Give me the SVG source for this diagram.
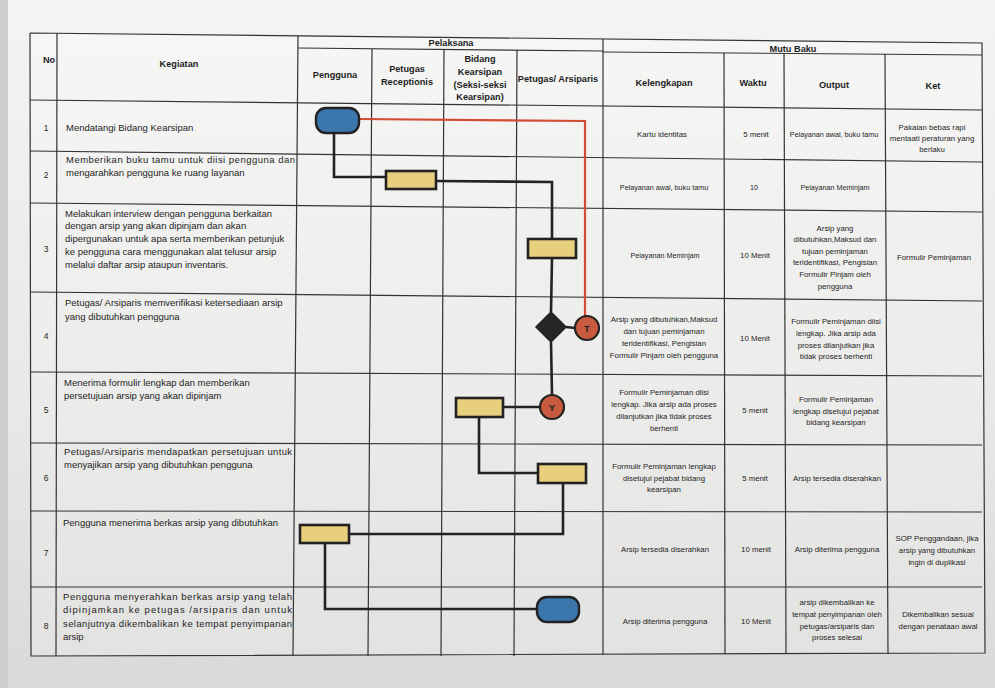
<svg xmlns="http://www.w3.org/2000/svg" width="995" height="688" viewBox="0 0 995 688">
<defs>
<linearGradient id="bg" x1="0" y1="0" x2="0" y2="1">
<stop offset="0" stop-color="#f4f4f3"/>
<stop offset="0.6" stop-color="#e8e8e6"/>
<stop offset="1" stop-color="#d9d9d8"/>
</linearGradient>
<linearGradient id="tb" x1="0" y1="0" x2="0" y2="1">
<stop offset="0" stop-color="#f6f6f5"/>
<stop offset="0.55" stop-color="#ececea"/>
<stop offset="1" stop-color="#e2e2e0"/>
</linearGradient>
<style>
.g{stroke:#333;stroke-width:1.2;fill:none}
.c{stroke:#232323;stroke-width:2.6;fill:none}
.r{stroke:#d34b35;stroke-width:2.2;fill:none}
.y{fill:#e8cf7e;stroke:#222;stroke-width:2.6}
.b{fill:#3b76ad;stroke:#222;stroke-width:2.4}
.o{fill:#c85a40;stroke:#222;stroke-width:2.2}
.d{fill:#262626;stroke:#222;stroke-width:1.5}
text{font-family:"Liberation Sans",Arial,sans-serif;fill:#1e1e1e}
.h{font-weight:bold;font-size:9.2px;text-anchor:middle}
.k{font-size:9.5px}
.n{font-size:8.5px;text-anchor:middle}
.m{font-size:7.8px;text-anchor:middle}
.s{font-size:7.2px;text-anchor:middle}
.l{font-weight:bold;font-size:9.5px;text-anchor:middle;fill:#222}
</style>
</defs>
<rect x="0" y="0" width="995" height="688" fill="url(#bg)"/>
<rect x="0" y="0" width="8" height="688" fill="#cfcfcf"/>
<polygon points="30,33 982,43 985,653 31,656" fill="url(#tb)"/>

<g id="grid">
<polyline class="g" points="30,33 982,43 985,653 31,656 30,33" stroke-width="1.4"/>
<line class="g" x1="298" y1="48" x2="603" y2="51"/>
<line class="g" x1="603" y1="52" x2="982" y2="55"/>
<line class="g" x1="30" y1="100" x2="982" y2="110"/>
<line class="g" x1="30" y1="151" x2="982" y2="162"/>
<line class="g" x1="30" y1="203" x2="982" y2="212"/>
<line class="g" x1="30" y1="292" x2="982" y2="301"/>
<line class="g" x1="30" y1="372" x2="982" y2="376"/>
<line class="g" x1="30" y1="443" x2="982" y2="445"/>
<line class="g" x1="30" y1="511" x2="982" y2="512"/>
<line class="g" x1="30" y1="587" x2="982" y2="587"/>
<line class="g" x1="57" y1="33" x2="56" y2="656"/>
<line class="g" x1="298" y1="36" x2="293" y2="656"/>
<line class="g" x1="372" y1="49" x2="368" y2="656"/>
<line class="g" x1="444" y1="49" x2="441" y2="656"/>
<line class="g" x1="517" y1="50" x2="514" y2="656"/>
<line class="g" x1="603" y1="39" x2="603" y2="655"/>
<line class="g" x1="724" y1="53" x2="725" y2="654"/>
<line class="g" x1="784" y1="53" x2="786" y2="654"/>
<line class="g" x1="885" y1="54" x2="888" y2="654"/>
</g>

<g id="header">
<text class="h" x="49" y="63">No</text>
<text class="h" x="179" y="67">Kegiatan</text>
<text class="h" x="451" y="46">Pelaksana</text>
<text class="h" x="335" y="78">Pengguna</text>
<text class="h" x="407" y="72">Petugas</text>
<text class="h" x="407" y="85">Receptionis</text>
<text class="h" x="480" y="62">Bidang</text>
<text class="h" x="480" y="75">Kearsipan</text>
<text class="h" x="480" y="88">(Seksi-seksi</text>
<text class="h" x="480" y="100">Kearsipan)</text>
<text class="h" x="558" y="82">Petugas/ Arsiparis</text>
<text class="h" x="793" y="52">Mutu Baku</text>
<text class="h" x="664" y="86">Kelengkapan</text>
<text class="h" x="753" y="86">Waktu</text>
<text class="h" x="834" y="88">Output</text>
<text class="h" x="933" y="89">Ket</text>
</g>

<g id="numbers">
<text class="n" x="46" y="131">1</text>
<text class="n" x="46" y="178">2</text>
<text class="n" x="46" y="252">3</text>
<text class="n" x="46" y="339">4</text>
<text class="n" x="46" y="413">5</text>
<text class="n" x="46" y="481">6</text>
<text class="n" x="46" y="556">7</text>
<text class="n" x="46" y="629">8</text>
</g>

<g id="kegiatan">
<text class="k" x="66" y="131" font-size="10.2">Mendatangi Bidang Kearsipan</text>
<text class="k" x="66" y="163" textLength="229" lengthAdjust="spacing">Memberikan buku tamu untuk diisi pengguna dan</text>
<text class="k" x="66" y="176">mengarahkan pengguna ke ruang layanan</text>
<text class="k" x="65" y="217">Melakukan interview dengan pengguna berkaitan</text>
<text class="k" x="65" y="229">dengan arsip yang akan dipinjam dan akan</text>
<text class="k" x="65" y="242">dipergunakan untuk apa serta memberikan petunjuk</text>
<text class="k" x="65" y="255">ke pengguna cara menggunakan alat telusur arsip</text>
<text class="k" x="65" y="268">melalui daftar arsip ataupun inventaris.</text>
<text class="k" x="65" y="306">Petugas/ Arsiparis memverifikasi ketersediaan arsip</text>
<text class="k" x="65" y="320">yang dibutuhkan pengguna</text>
<text class="k" x="64" y="386">Menerima formulir lengkap dan memberikan</text>
<text class="k" x="64" y="399">persetujuan arsip yang akan dipinjam</text>
<text class="k" x="64" y="455" textLength="228" lengthAdjust="spacing">Petugas/Arsiparis mendapatkan persetujuan untuk</text>
<text class="k" x="64" y="468">menyajikan arsip yang dibutuhkan pengguna</text>
<text class="k" x="63" y="526">Pengguna menerima berkas arsip yang dibutuhkan</text>
<text class="k" x="63" y="600" textLength="229" lengthAdjust="spacing">Pengguna menyerahkan berkas arsip yang telah</text>
<text class="k" x="63" y="613" textLength="229" lengthAdjust="spacing">dipinjamkan ke petugas /arsiparis dan untuk</text>
<text class="k" x="63" y="627" textLength="229" lengthAdjust="spacing">selanjutnya dikembalikan ke tempat penyimpanan</text>
<text class="k" x="63" y="640">arsip</text>
</g>

<g id="mutu">
<text class="m" x="662" y="137">Kartu identitas</text>
<text class="m" x="756" y="137">5 menit</text>
<text class="s" x="834" y="137">Pelayanan awal, buku tamu</text>
<text class="m" x="932" y="130">Pakaian bebas rapi</text>
<text class="m" x="932" y="141">mentaati peraturan yang</text>
<text class="m" x="932" y="152">berlaku</text>

<text class="s" x="664" y="190">Pelayanan awal, buku tamu</text>
<text class="s" x="754" y="190">10</text>
<text class="s" x="835" y="190">Pelayanan Meminjam</text>

<text class="s" x="665" y="258">Pelayanan Meminjam</text>
<text class="m" x="755" y="258">10 Menit</text>
<text class="m" x="835" y="231">Arsip yang</text>
<text class="m" x="835" y="242">dibutuhkan,Maksud dan</text>
<text class="m" x="835" y="254">tujuan peminjaman</text>
<text class="m" x="835" y="265">teridentifikasi, Pengisian</text>
<text class="m" x="835" y="277">Formulir Pinjam oleh</text>
<text class="m" x="835" y="289">pengguna</text>
<text class="m" x="934" y="260">Formulir Peminjaman</text>

<text class="m" x="664" y="322">Arsip yang dibutuhkan,Maksud</text>
<text class="m" x="664" y="334">dan tujuan peminjaman</text>
<text class="m" x="664" y="346">teridentifikasi, Pengisian</text>
<text class="m" x="664" y="358">Formulir Pinjam oleh pengguna</text>
<text class="m" x="755" y="341">10 Menit</text>
<text class="m" x="836" y="324">Formulir Peminjaman diisi</text>
<text class="m" x="836" y="336">lengkap. Jika arsip ada</text>
<text class="m" x="836" y="348">proses dilanjutkan jika</text>
<text class="m" x="836" y="359">tidak proses berhenti</text>

<text class="m" x="664" y="395">Formulir Peminjaman diisi</text>
<text class="m" x="664" y="407">lengkap. Jika arsip ada proses</text>
<text class="m" x="664" y="419">dilanjutkan jika tidak proses</text>
<text class="m" x="664" y="431">berhenti</text>
<text class="m" x="755" y="413">5 menit</text>
<text class="m" x="836" y="402">Formulir Peminjaman</text>
<text class="m" x="836" y="414">lengkap disetujui pejabat</text>
<text class="m" x="836" y="425">bidang kearsipan</text>

<text class="m" x="664" y="469">Formulir Peminjaman lengkap</text>
<text class="m" x="664" y="481">disetujui pejabat bidang</text>
<text class="m" x="664" y="492">kearsipan</text>
<text class="m" x="755" y="481">5 menit</text>
<text class="m" x="837" y="481">Arsip tersedia diserahkan</text>

<text class="m" x="665" y="552">Arsip tersedia diserahkan</text>
<text class="m" x="756" y="552">10 menit</text>
<text class="m" x="837" y="552">Arsip diterima pengguna</text>
<text class="m" x="937" y="541">SOP Penggandaan, jika</text>
<text class="m" x="937" y="553">arsip yang dibutuhkan</text>
<text class="m" x="937" y="565">ingin di duplikasi</text>

<text class="m" x="665" y="624">Arsip diterima pengguna</text>
<text class="m" x="756" y="624">10 Menit</text>
<text class="m" x="837" y="605">arsip dikembalikan ke</text>
<text class="m" x="837" y="617">tempat penyimpanan oleh</text>
<text class="m" x="837" y="629">petugas/arsiparis dan</text>
<text class="m" x="837" y="640">proses selesai</text>
<text class="m" x="938" y="617">Dikembalikan sesuai</text>
<text class="m" x="938" y="629">dengan penataan awal</text>
</g>

<g id="connectors">
<polyline class="r" points="359,119 585,121 585,316"/>
<polyline class="c" points="334,133 334,177 386,177"/>
<polyline class="c" points="436,181 552,182 552,239"/>
<line class="c" x1="552" y1="258" x2="551" y2="312"/>
<line class="c" x1="566" y1="327" x2="575" y2="328"/>
<line class="c" x1="551" y1="342" x2="552" y2="395"/>
<line class="c" x1="540" y1="407" x2="503" y2="407"/>
<polyline class="c" points="479,417 479,473 538,473"/>
<polyline class="c" points="563,483 563,534 349,534"/>
<polyline class="c" points="325,543 325,609 537,609"/>
</g>

<g id="start"><rect class="b" x="316" y="108" width="43" height="25" rx="10"/></g>
<g id="step2"><rect class="y" x="386" y="171" width="50" height="18"/></g>
<g id="step3"><rect class="y" x="528" y="239" width="48" height="19"/></g>
<g id="decision"><polygon class="d" points="551,312 566,327 551,342 536,327"/></g>
<g id="no"><circle class="o" cx="587" cy="328" r="12"/><text class="l" x="587" y="331.5">T</text></g>
<g id="yes"><circle class="o" cx="552" cy="407" r="12"/><text class="l" x="552" y="410.5">Y</text></g>
<g id="step5"><rect class="y" x="456" y="398" width="47" height="19"/></g>
<g id="step6"><rect class="y" x="538" y="464" width="48" height="19"/></g>
<g id="step7"><rect class="y" x="300" y="525" width="49" height="18"/></g>
<g id="end"><rect class="b" x="537" y="597" width="42" height="25" rx="10"/></g>
</svg>
